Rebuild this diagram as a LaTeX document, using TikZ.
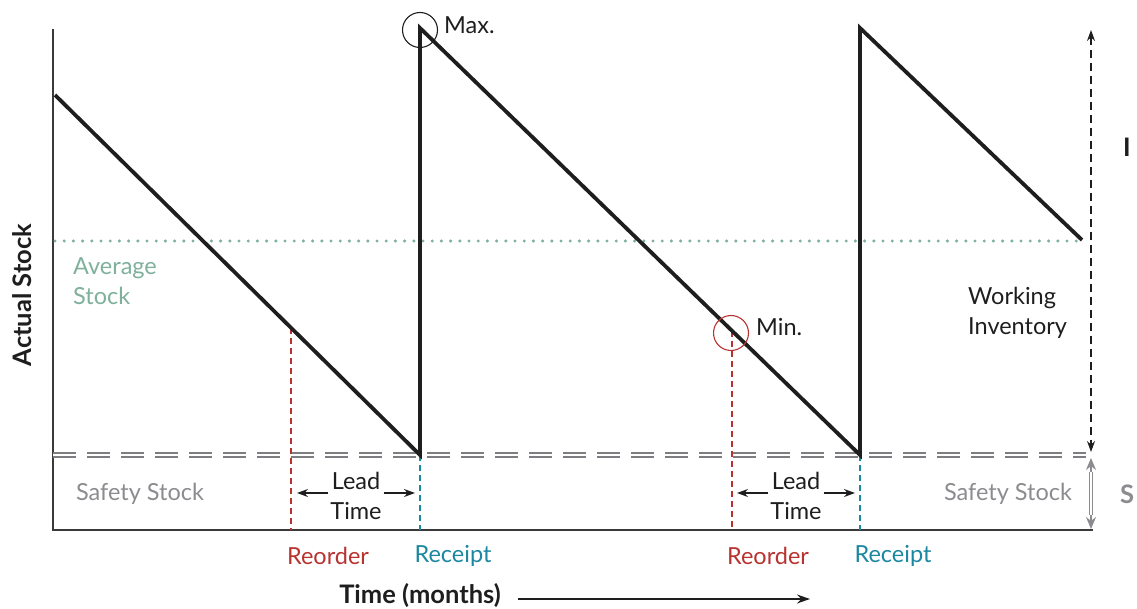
\documentclass[tikz,border=0pt]{standalone}
\usepackage{fontspec}
\setmainfont{Lato}
\usetikzlibrary{arrows.meta}
\definecolor{reorderred}{HTML}{B83330}
\definecolor{receiptteal}{HTML}{1B87A0}
\definecolor{avggreen}{HTML}{7FB09C}
\definecolor{safegrey}{HTML}{8C8C90}
\definecolor{axisgrey}{HTML}{3A3A3A}
\definecolor{inkblack}{HTML}{1E1E1E}
\tikzset{
  lbl/.style={inner sep=1pt, font=\fontsize{23.5}{30}\selectfont, text=inkblack},
  boldlbl/.style={lbl, font=\fontsize{25.5}{30}\selectfont\bfseries},
  axisline/.style={draw=axisgrey, line width=1.8pt},
  stockline/.style={draw=inkblack, line width=3.8pt, line join=miter},
  safetyline/.style={draw=safegrey!90!black, line width=1.8pt, double=white, double distance=1.8pt, dash pattern=on 23pt off 11pt},
  reorderline/.style={draw=reorderred, line width=1.4pt, dash pattern=on 6pt off 4pt},
  receiptline/.style={draw=receiptteal, line width=1.4pt, dash pattern=on 6pt off 4pt},
  avgline/.style={draw=avggreen, line width=3.4pt, line cap=round, dash pattern=on 0pt off 9.2pt},
  leadarrow/.style={draw=inkblack, line width=1.2pt, -{Stealth[length=11pt, width=8pt]}},
  greytip/.style={draw=safegrey, line width=1.2pt, -{Stealth[length=12pt, width=10pt, fill=safegrey]}},
  markcircle/.style={circle, draw, line width=1.1pt, minimum size=35pt, inner sep=0pt},
}
\begin{document}
\begin{tikzpicture}[x=1pt, y=-1pt]
\useasboundingbox (0,0) rectangle (1137,609);

% axes
\coordinate (origin) at (53,530);
\coordinate (ytop) at (53,29);
\coordinate (xend) at (1093,530);
\draw[axisline] (ytop) -- (origin) -- (xend);

% average stock level
\coordinate (avgL) at (55,241);
\coordinate (avgR) at (1082,241);
\draw[avgline] (avgL) -- (avgR);

% safety stock level
\coordinate (safeL) at (53,455);
\coordinate (safeR) at (1086,455);
\draw[safetyline] (safeL) -- (safeR);

% sawtooth of the actual stock
\coordinate (s0) at (55,95);
\coordinate (s1) at (420,455);
\coordinate (s2) at (420,28);
\coordinate (s3) at (860,455);
\coordinate (s4) at (860,28);
\coordinate (s5) at (1082,240);

% reorder and receipt points
\coordinate (r1top) at (291,328);
\coordinate (r1bot) at (291,530);
\coordinate (r2top) at (732,331);
\coordinate (r2bot) at (732,530);
\coordinate (c1bot) at (420,530);
\coordinate (c2bot) at (860,530);
\draw[reorderline] (r1top) -- (r1bot);
\draw[reorderline] (r2top) -- (r2bot);
\draw[receiptline] (s1) -- (c1bot);
\draw[receiptline] (s3) -- (c2bot);

\draw[stockline] (s0) -- (s1) -- (s2) -- (s3) -- (s4) -- (s5);

% max and min markers
\node[markcircle, draw=inkblack] (maxc) at (420,30) {};
\node[lbl, anchor=west] (maxl) at (443,25) {Max.};
\node[markcircle, draw=reorderred] (minc) at (731,333) {};
\node[lbl, anchor=west] (minl) at (755,327) {Min.};

% lead time
\node[lbl, align=center, inner sep=2pt] (lead1) at (356,496) {Lead\\Time};
\coordinate (lead1L) at (297,493);
\coordinate (lead1R) at (415,493);
\draw[leadarrow] (lead1.west |- lead1L) -- (lead1L);
\draw[leadarrow] (lead1.east |- lead1R) -- (lead1R);
\node[lbl, align=center, inner sep=2pt] (lead2) at (796,496) {Lead\\Time};
\coordinate (lead2L) at (737,493);
\coordinate (lead2R) at (855,493);
\draw[leadarrow] (lead2.west |- lead2L) -- (lead2L);
\draw[leadarrow] (lead2.east |- lead2R) -- (lead2R);

% working inventory span
\coordinate (wtop) at (1091,30);
\coordinate (wbot) at (1091,452);
\draw[draw=inkblack, line width=1.2pt, dash pattern=on 8pt off 5pt,
      {Stealth[length=11pt, width=8pt]}-{Stealth[length=11pt, width=8pt]}] (wtop) -- (wbot);

% safety stock span: double shaft with grey tips
\coordinate (stop) at (1091,458);
\coordinate (sbot) at (1091,529);
\coordinate (supper) at (1091,472);
\coordinate (slower) at (1091,515);
\draw[draw=safegrey, line width=1pt, double=white, double distance=1.6pt] (supper) -- (slower);
\draw[greytip] (supper) -- (stop);
\draw[greytip] (slower) -- (sbot);

% labels
\node[lbl, text=avggreen, align=left, anchor=west] (avgl) at (72,281) {Average\\Stock};
\node[lbl, text=safegrey] (safe1) at (140,494) {Safety Stock};
\node[lbl, text=safegrey] (safe2) at (1008,494) {Safety Stock};
\node[lbl, align=left, anchor=west] (work) at (967,313) {Working\\Inventory};
\node[boldlbl] (ilbl) at (1127,147) {I};
\node[boldlbl, text=safegrey] (slbl) at (1127,494) {S};

\node[lbl, text=reorderred] (reo1) at (328,556) {Reorder};
\node[lbl, text=receiptteal] (rec1) at (453,556) {Receipt};
\node[lbl, text=reorderred] (reo2) at (768,556) {Reorder};
\node[lbl, text=receiptteal] (rec2) at (893,556) {Receipt};

\node[boldlbl, rotate=90] (ylbl) at (22,295) {Actual Stock};
\node[boldlbl] (xlbl) at (420,596) {Time (months)};
\coordinate (xarrowL) at (518,599);
\coordinate (xarrowR) at (810,599);
\draw[draw=inkblack, line width=1.2pt, -{Stealth[length=13pt, width=9pt]}] (xarrowL) -- (xarrowR);
\end{tikzpicture}
\end{document}
